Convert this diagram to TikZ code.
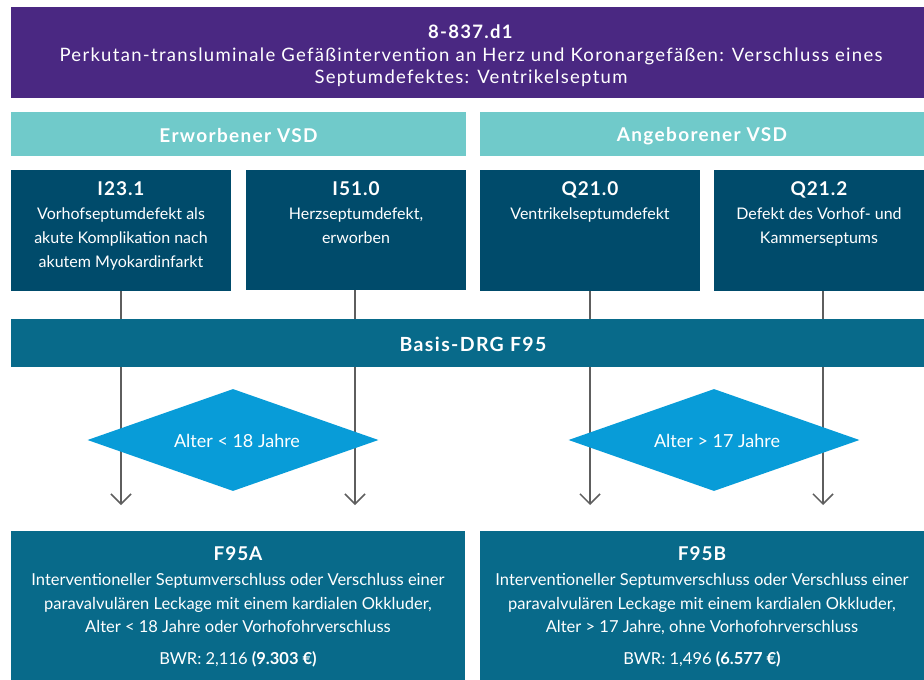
\documentclass[tikz,border=0pt]{standalone}
\usepackage{fontspec}
\setmainfont{Lato}
\newfontfamily\spaced[LetterSpace=7]{Lato}
\newfontfamily\codefont[LetterSpace=5]{Lato}
\usetikzlibrary{arrows.meta,shapes.geometric,backgrounds}
\definecolor{purp}{HTML}{4A2882}
\definecolor{teal}{HTML}{70CACA}
\definecolor{dark}{HTML}{004B6B}
\definecolor{mid}{HTML}{086A8A}
\definecolor{sky}{HTML}{089CD8}
\definecolor{conn}{HTML}{5E5E5E}
\tikzset{
  box/.style={anchor=north west, inner sep=0, outer sep=0},
  txt/.style={text=white, align=center, inner sep=0},
  conline/.style={draw=conn, line width=1.5pt},
  conarrow/.style={conline, -{Straight Barb[length=10pt,width=20pt,line width=1.5pt]}},
  decision/.style={diamond, fill=sky, inner sep=0, minimum width=291, minimum height=102},
}
\newcommand{\codeline}[1]{{\codefont\bfseries\fontsize{19}{24}\selectfont #1}}
\begin{document}
\begin{tikzpicture}[x=1pt,y=-1pt]
\useasboundingbox (0,0) rectangle (924,680);
% title
\node[box, fill=purp, minimum width=913, minimum height=91] (top) at (11,7) {};
\node[txt, font=\spaced\fontsize{18.5}{22.5}\selectfont] (toptxt) at (471,56)
  {\textbf{8-837.d1}\\Perkutan-transluminale Gefäßintervention an Herz und Koronargefäßen: Verschluss eines\\Septumdefektes: Ventrikelseptum};
% headers
\node[box, fill=teal, minimum width=455, minimum height=44] (hl) at (11,112) {};
\node[txt, font=\spaced\bfseries\fontsize{19}{20}\selectfont] (hltxt) at ([yshift=-2]hl.center) {Erworbener VSD};
\node[box, fill=teal, minimum width=444, minimum height=44] (hr) at (480,112) {};
\node[txt, font=\spaced\bfseries\fontsize{19}{20}\selectfont] (hrtxt) at ([yshift=-2]hr.center) {Angeborener VSD};
% diagnosis boxes
\node[box, fill=dark, minimum width=220, minimum height=121] (b1) at (11,170) {};
\node[box, fill=dark, minimum width=220, minimum height=120] (b2) at (246,170) {};
\node[box, fill=dark, minimum width=220, minimum height=121] (b3) at (480,170) {};
\node[box, fill=dark, minimum width=210, minimum height=121] (b4) at (714,170) {};
\tikzset{codetxt/.style={txt, anchor=north, font=\fontsize{16}{24}\selectfont}}
\node[codetxt] (t1) at ([yshift=-11]b1.north) {\codeline{I23.1}\\Vorhofseptumdefekt als\\akute Komplikation nach\\akutem Myokardinfarkt};
\node[codetxt] (t2) at ([yshift=-11]b2.north) {\codeline{I51.0}\\Herzseptumdefekt,\\erworben};
\node[codetxt] (t3) at ([yshift=-11]b3.north) {\codeline{Q21.0}\\Ventrikelseptumdefekt};
\node[codetxt] (t4) at ([yshift=-11]b4.north) {\codeline{Q21.2}\\Defekt des Vorhof- und\\Kammerseptums};
% basis bar
\node[box, fill=mid, minimum width=913, minimum height=48] (basis) at (11,319) {};
\node[txt, font=\spaced\bfseries\fontsize{19.5}{20}\selectfont] (basistxt) at (473,344) {Basis-DRG F95};
% decisions
\node[decision] (d1) at (233,440) {};
\node[txt, font=\fontsize{18}{20}\selectfont] (d1txt) at (237,441) {Alter < 18 Jahre};
\node[decision] (d2) at (714,440) {};
\node[txt, font=\fontsize{18}{20}\selectfont] (d2txt) at (717,441) {Alter > 17 Jahre};
% results
\node[box, fill=mid, minimum width=454, minimum height=149] (ra) at (11,531) {};
\node[box, fill=mid, minimum width=444, minimum height=149] (rb) at (480,531) {};
\tikzset{restxt/.style={txt, anchor=north, font=\fontsize{16.5}{23.5}\selectfont}}
\node[restxt] (rat) at ([yshift=-15]ra.north)
  {\codeline{F95A}\\[2pt]Interventioneller Septumverschluss oder Verschluss einer\\paravalvulären Leckage mit einem kardialen Okkluder,\\Alter < 18 Jahre oder Vorhofohrverschluss\\[8pt]BWR: 2,116 \textbf{(9.303 €)}};
\node[restxt] (rbt) at ([yshift=-15]rb.north)
  {\codeline{F95B}\\[2pt]Interventioneller Septumverschluss oder Verschluss einer\\paravalvulären Leckage mit einem kardialen Okkluder,\\Alter > 17 Jahre, ohne Vorhofohrverschluss\\[8pt]BWR: 1,496 \textbf{(6.577 €)}};
% connectors
\coordinate (x1) at (121,0);
\coordinate (x2) at (355,0);
\coordinate (x3) at (590,0);
\coordinate (x4) at (823,0);
\coordinate (tip) at (0,505);
\begin{scope}[on background layer]
\draw[conline] (b1.south -| x1) -- (basis.north -| x1);
\draw[conline] (b2.south -| x2) -- (basis.north -| x2);
\draw[conline] (b3.south -| x3) -- (basis.north -| x3);
\draw[conline] (b4.south -| x4) -- (basis.north -| x4);
\draw[conarrow] (basis.south -| x1) -- (tip -| x1);
\draw[conarrow] (basis.south -| x2) -- (tip -| x2);
\draw[conarrow] (basis.south -| x3) -- (tip -| x3);
\draw[conarrow] (basis.south -| x4) -- (tip -| x4);
\end{scope}
\end{tikzpicture}
\end{document}
